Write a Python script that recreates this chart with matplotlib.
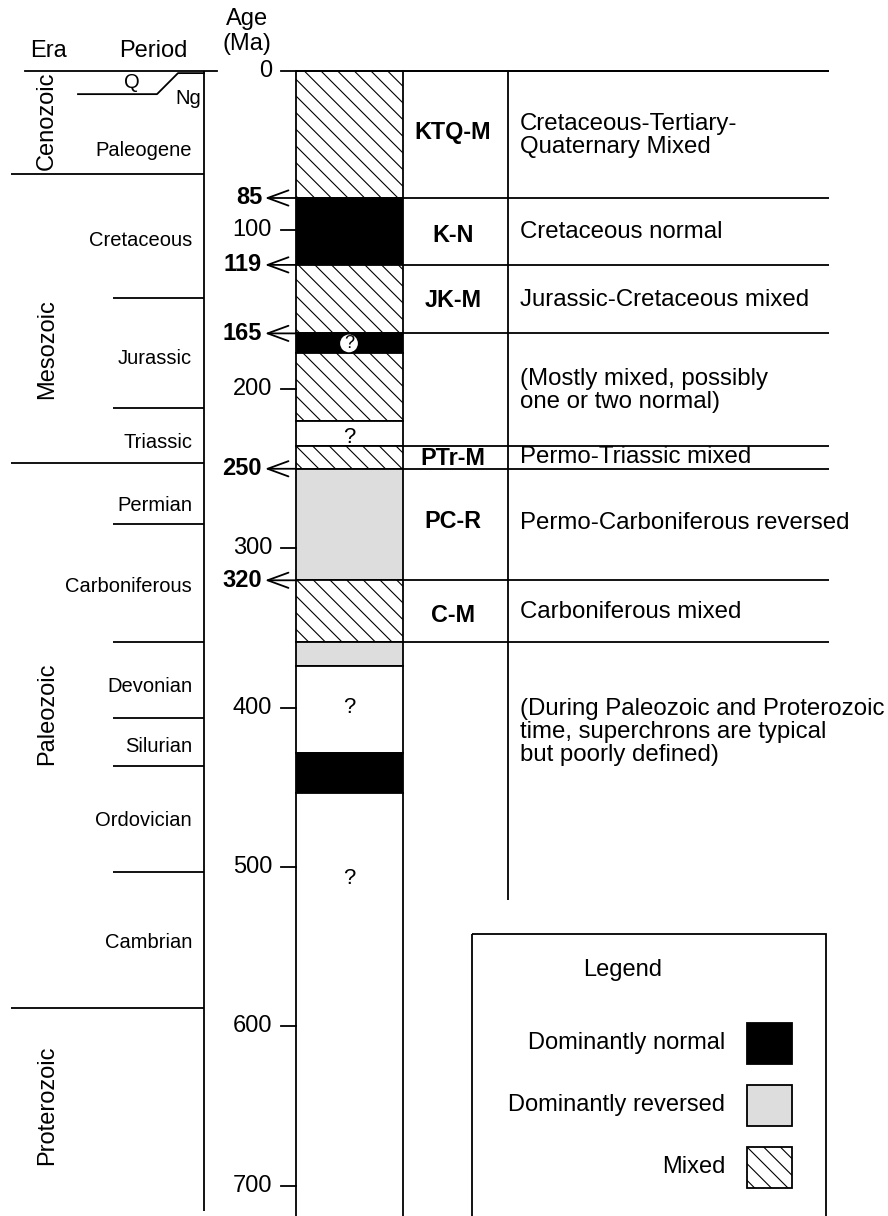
import matplotlib.pyplot as plt
from matplotlib.patches import Rectangle

plt.rcParams['font.family'] = ['Liberation Sans', 'DejaVu Sans']
plt.rcParams['hatch.linewidth'] = 0.8

# polarity bands in the column (top age, bottom age, kind), Ma
band_top = [0, 80, 122, 165, 177, 220, 235.5, 250, 320, 359, 373.5, 428.5, 453.5]
band_bot = [80, 122, 165, 177, 220, 235.5, 250, 320, 359, 373.5, 428.5, 453.5, 740]
band_kind = ['M', 'N', 'M', 'N', 'M', 'U', 'M', 'R', 'M', 'R', 'U', 'N', 'U']

# "?" marks inside the column
q_ages = [230.5, 400, 507]

# superchron boundaries (drawn position, label)
bound_ages = [80, 122, 165, 250, 320]
bound_labels = ['85', '119', '165', '250', '320']

# extra row lines on the right
row_lines = [0, 80, 122, 165, 235.5, 250, 320, 359]

codes = ['KTQ-M', 'K-N', 'JK-M', 'PTr-M', 'PC-R', 'C-M']
code_ages = [38.6, 103.3, 144.1, 243.8, 283.4, 341.8]

descs = ['Cretaceous-Tertiary-\nQuaternary Mixed', 'Cretaceous normal',
         'Jurassic-Cretaceous mixed', '(Mostly mixed, possibly\none or two normal)',
         'Permo-Triassic mixed', 'Permo-Carboniferous reversed', 'Carboniferous mixed',
         '(During Paleozoic and Proterozoic\ntime, superchrons are typical\nbut poorly defined)']
desc_ages = [40.5, 101.4, 144.1, 200.6, 242.6, 284.0, 339.9, 415.2]

ticks = [0, 100, 200, 300, 400, 500, 600, 700]

eras = ['Cenozoic', 'Mesozoic', 'Paleozoic', 'Proterozoic']
era_ages = [31.7, 174.8, 403.9, 649.4]
era_lines = [65.0, 246.4, 588.5]

periods = ['Paleogene', 'Cretaceous', 'Jurassic', 'Triassic', 'Permian', 'Carboniferous',
           'Devonian', 'Silurian', 'Ordovician', 'Cambrian']
period_ages = [49.9, 106.4, 180.5, 233.2, 272.8, 324.2, 386.4, 424.1, 470.5, 547.1]
period_lines = [142.8, 211.9, 284.7, 358.8, 406.5, 436.6, 503.2]

styles = {'M': dict(facecolor='white', hatch='\\\\'),
          'N': dict(facecolor='black'),
          'R': dict(facecolor='#dddddd'),
          'U': dict(facecolor='white')}

fig = plt.figure(figsize=(8.88, 12.16), dpi=100)
ax = fig.add_axes([0, 0, 1, 1])
ax.set_xlim(0, 888)
ax.set_ylim(719.1, -44.3)
ax.axis('off')

lw = 1.3
fs = 17

# column
for t, b, k in zip(band_top, band_bot, band_kind):
    ax.bar(349, b - t, bottom=t, width=107, edgecolor='black', linewidth=lw, **styles[k])
for a in q_ages:
    ax.text(349, a, '?', ha='center', va='center', fontsize=16)
ax.text(349, 171.3, '?', ha='center', va='center', fontsize=13,
        bbox=dict(boxstyle='circle,pad=0.06', fc='white', ec='black', lw=1))

# age axis
for t in ticks:
    ax.plot([281, 295.5], [t, t], color='black', lw=lw)
    ax.text(272, t, str(t), ha='right', va='center', fontsize=fs)
for a, lab in zip(bound_ages, bound_labels):
    ax.annotate('', xy=(265, a), xytext=(295.5, a),
                arrowprops=dict(arrowstyle='->,head_length=1.5,head_width=0.55',
                                lw=lw, color='black', mutation_scale=10,
                                shrinkA=0, shrinkB=0))
    ax.text(262, a, lab, ha='right', va='center', fontsize=fs, fontweight='bold')

# right-hand table
ax.hlines([0], 295.5, 829, color='black', lw=lw)
ax.hlines(row_lines, 402.5, 829, color='black', lw=lw)
ax.vlines(508, 0, 520.7, color='black', lw=lw)
for c, a in zip(codes, code_ages):
    ax.text(453, a, c, ha='center', va='center', fontsize=16.8, fontweight='bold')
for d, a in zip(descs, desc_ages):
    ax.text(520, a, d, ha='left', va='center', fontsize=17.3, linespacing=1.05)

# era / period columns
ax.text(48, -12, 'Era', ha='center', va='center', fontsize=fs)
ax.text(153, -12, 'Period', ha='center', va='center', fontsize=fs)
ax.text(247, -24.5, 'Age\n(Ma)', ha='center', va='center', fontsize=fs, linespacing=1.15)
ax.plot([25, 217], [0, 0], color='black', lw=lw)
ax.vlines(204, 0, 716, color='black', lw=lw)
ax.hlines(era_lines, 11, 204, color='black', lw=lw)
ax.hlines(period_lines, 113, 204, color='black', lw=lw)
ax.plot([78, 157, 178, 204], [14.8, 14.8, 1.6, 1.6], color='black', lw=lw)
ax.text(132, 7.5, 'Q', ha='center', va='center', fontsize=14.5)
ax.text(188, 17.5, 'Ng', ha='center', va='center', fontsize=14.5)
for e, a in zip(eras, era_ages):
    ax.text(47, a, e, ha='center', va='center', fontsize=fs, rotation=90)
for p, a in zip(periods, period_ages):
    ax.text(192, a, p, ha='right', va='center', fontsize=14.5)

# legend box
ax.add_patch(Rectangle((472, 542), 354, 200, fill=False, ec='black', lw=lw))
ax.text(623, 564.6, 'Legend', ha='center', va='center', fontsize=fs)
leg_labels = ['Dominantly normal', 'Dominantly reversed', 'Mixed']
leg_kinds = ['N', 'R', 'M']
leg_ages = [598.0, 636.9, 675.8]
for lab, k, a in zip(leg_labels, leg_kinds, leg_ages):
    ax.bar(769.5, 25.7, bottom=a, width=45, edgecolor='black', linewidth=lw, **styles[k])
    ax.text(725, a + 12.8, lab, ha='right', va='center', fontsize=17)

fig.savefig('out.png', dpi=100)
